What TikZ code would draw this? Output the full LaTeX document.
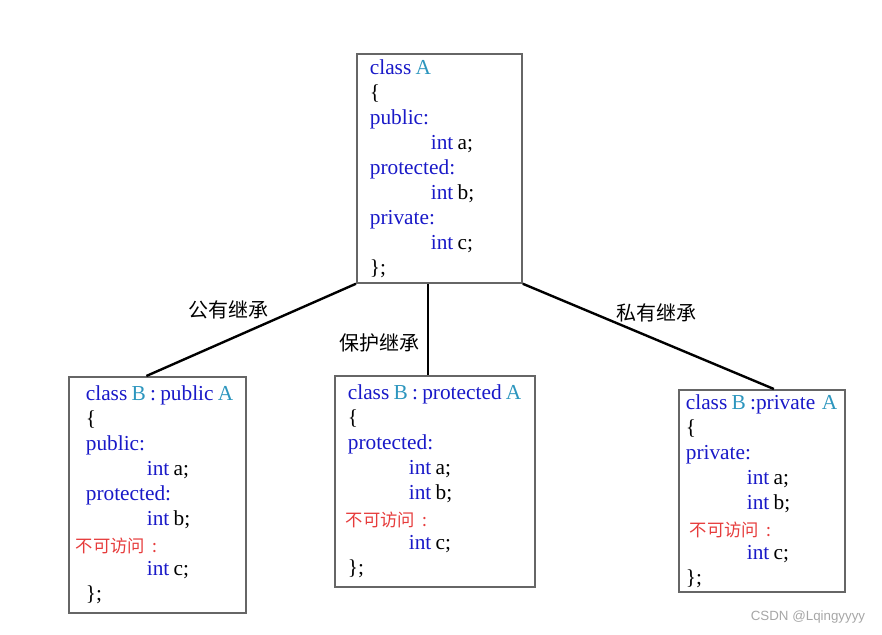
\documentclass[tikz,border=0pt]{standalone}
\usepackage{fontspec}
\setmainfont{Liberation Serif}
\newfontfamily\cjk{Noto Sans CJK SC}
\newfontfamily\wmfont{Liberation Sans}
\definecolor{kwblue}{RGB}{25,25,200}
\definecolor{clsteal}{RGB}{45,150,190}
\definecolor{nored}{RGB}{230,60,60}
\newcommand{\kw}[1]{\textcolor{kwblue}{#1}}
\newcommand{\cn}[1]{\textcolor{clsteal}{#1}}
\newcommand{\ws}{\hspace{3.2pt}}
\newcommand{\ind}{\hspace*{45.75pt}}
\newcommand{\noacc}[1]{\hspace*{#1}{\cjk\fontsize{13}{18.75}\selectfont\textcolor{nored}{不可访问 :}}}

\begin{document}
\begin{tikzpicture}[x=0.75pt, y=-0.75pt,
  box/.style={draw=black!60, line width=1.3pt, inner ysep=0pt, align=left, anchor=north west,
    font=\fontsize{16}{18.75}\selectfont},
  lbl/.style={font=\cjk\fontsize{15}{18}\selectfont},
  link/.style={draw, line width=1.8pt}]
\useasboundingbox (0,0) rectangle (882,635);
\node[box, inner xsep=9.75pt, text width=104.25pt, minimum height=171.75pt] (a) at (356,53)
  {\kw{class}\ws\cn{A}\\ \{\\ \kw{public:}\\ \ind\kw{int}\ws a;\\ \kw{protected:}\\ \ind\kw{int}\ws b;\\
   \kw{private:}\\ \ind\kw{int}\ws c;\\ \};};
\node[box, inner xsep=12.75pt, text width=107.25pt, minimum height=177pt] (pub) at (68,376)
  {\mbox{\kw{class}\ws\cn{B}\ws\kw{:\ws public}\ws\cn{A}}\\ \{\\ \kw{public:}\\ \ind\kw{int}\ws a;\\ \kw{protected:}\\
   \ind\kw{int}\ws b;\\[1.5pt] \noacc{-7.5pt}\\[-1.5pt] \ind\kw{int}\ws c;\\ \};};
\node[box, inner xsep=9.75pt, text width=130.5pt, minimum height=158.25pt] (prot) at (334,375)
  {\mbox{\kw{class}\ws\cn{B}\ws\kw{:\ws protected}\ws\cn{A}}\\ \{\\ \kw{protected:}\\ \ind\kw{int}\ws a;\\ \ind\kw{int}\ws b;\\[1.5pt]
   \noacc{-1.5pt}\\[-1.5pt] \ind\kw{int}\ws c;\\ \};};
\node[box, inner xsep=5.25pt, text width=114pt, minimum height=151.5pt] (priv) at (678,389)
  {\mbox{\kw{class}\ws\cn{B}\ws\kw{:private}\hspace{5pt}\cn{A}}\\ \{\\ \kw{private:}\\ \ind\kw{int}\ws a;\\ \ind\kw{int}\ws b;\\[1.5pt]
   \noacc{3pt}\\[-1.5pt] \ind\kw{int}\ws c;\\ \};};
\node[lbl] (lpub) at (228,310) {公有继承};
\node[lbl] (lprot) at (379,343) {保护继承};
\node[lbl] (lpriv) at (656,313) {私有继承};
\draw[link] (a.south west) -- ([xshift=-8.25pt]pub.north);
\draw[link] ([xshift=-5.25pt]prot.north) coordinate (pt) -- (pt |- a.south);
\draw[link] (a.south east) -- ([xshift=9pt]priv.north);
\node[font=\wmfont\fontsize{10}{12}\selectfont, text=black!35] (wm) at (808,617) {CSDN @Lqingyyyy};
\end{tikzpicture}
\end{document}
